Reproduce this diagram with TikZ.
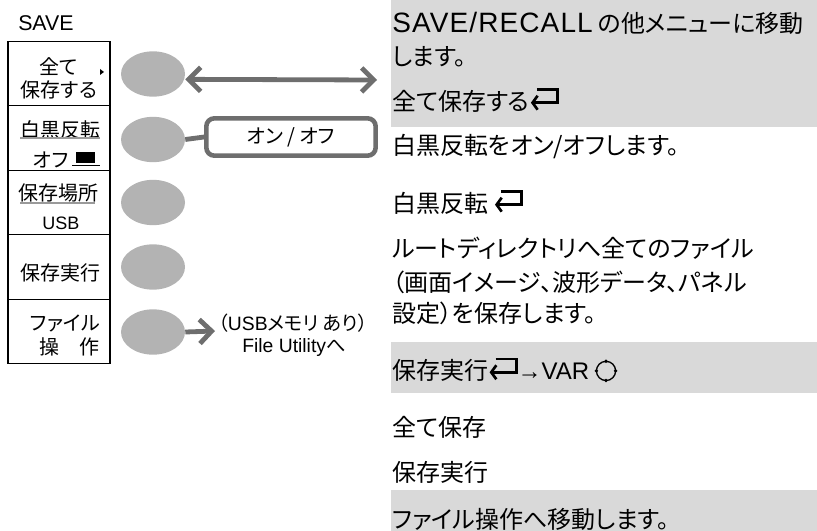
\documentclass[tikz,border=0pt]{standalone}
\usepackage{fontspec}
\setmainfont[RawFeature=+palt]{Noto Sans CJK JP}
\newfontfamily\lat{Liberation Sans}
\usetikzlibrary{arrows.meta,shapes.geometric,positioning,calc}
\definecolor{keygray}{HTML}{B3B3B3}
\definecolor{linegray}{HTML}{6E6E6E}
\definecolor{bandgray}{HTML}{D9D9D9}
\definecolor{markgray}{HTML}{9A9A9A}
\newcommand\retmark{\tikz[baseline=0pt,x=1pt,y=1pt]{\draw[line width=2pt,-{Straight Barb[length=3.8pt,width=10.5pt]}] (4,15.5) -- (19.5,15.5) -- (19.5,5.5) -- (-0.5,5.5);}}
\newcommand\varknob{\tikz[baseline=0pt,x=1pt,y=1pt]{\draw[line width=1pt] (7.5,6.5) circle (7.2);
  \foreach \a in {0,90,180,270} \fill ($(7.5,6.5)+(\a:7.2)$) circle (1.4);}}
\tikzset{
  menucell/.style={draw=black,line width=0.8pt,outer sep=0pt,inner sep=0pt,
    minimum width=76.5pt,minimum height=48.4pt},
  celltext/.style={inner sep=0pt,font=\fontsize{15}{17}\selectfont},
  softkey/.style={ellipse,fill=keygray,inner sep=0pt,minimum width=48pt,minimum height=34pt},
  keyline/.style={draw=linegray,line width=3.6pt},
  keyarrow/.style={keyline,-{Straight Barb[length=9pt,width=18pt]}},
  bothways/.style={keyline,{Straight Barb[length=9pt,width=18pt]}-{Straight Barb[length=9pt,width=18pt]}},
  onoff/.style={draw=linegray,line width=3.4pt,rounded corners=6pt,fill=white,
    minimum width=127pt,minimum height=28pt,font=\fontsize{15}{17}\selectfont},
  desc/.style={anchor=west,inner sep=0pt,font=\fontsize{18}{22}\selectfont}
}

\begin{document}
\begin{tikzpicture}[x=0.75pt,y=-0.75pt]
  \useasboundingbox (0,0) rectangle (817,531);
  % shaded description bands
  \fill[bandgray] (391,0) rectangle (817,127);
  \fill[bandgray] (391,342) rectangle (817,393);
  \fill[bandgray] (391,490) rectangle (817,531);

  \node[anchor=west,inner sep=0pt,font=\lat\fontsize{16}{18}\selectfont] (title) at (18,23) {SAVE};

  % menu column
  \node[menucell] (c1) at (59,73.5) {};
  \node[menucell,below=0pt of c1] (c2) {};
  \node[menucell,below=0pt of c2] (c3) {};
  \node[menucell,below=0pt of c3] (c4) {};
  \node[menucell,below=0pt of c4] (c5) {};

  \node[celltext] (allA) at (59,67) {全て};
  \node[celltext] (allB) at (59,90) {保存する};
  \fill (100,69) -- (104,72) -- (100,75) -- cycle;
  \node[celltext] (invA) at (60,130) {白黒反転};
  \draw[markgray,line width=1.5pt] (20,138) -- (100,138);
  \node[celltext,anchor=west] (invB) at (33,160) {オフ};
  \fill (76,152) rectangle (95,163);
  \draw[line width=1.3pt] (72,165.5) -- (100,165.5);
  \node[celltext] (locA) at (58,193) {保存場所};
  \draw[markgray,line width=1.5pt] (20,203) -- (95,203);
  \node[celltext,font=\lat\fontsize{13.5}{15}\selectfont] (locB) at (61,223) {USB};
  \node[celltext] (run) at (60,273) {保存実行};
  \node[celltext,anchor=east] (fileA) at (100,323) {ファイル};
  \node[celltext,anchor=east] (fileB) at (100,347) {操　作};

  % soft keys
  \node[softkey] (k1) at (153,74) {};
  \node[softkey] (k2) at (153,139.5) {};
  \node[softkey] (k3) at (153,202.5) {};
  \node[softkey] (k4) at (153,267) {};
  \node[softkey] (k5) at (153,332) {};

  \coordinate (a1) at (377,80);
  \draw[bothways] ([yshift=-4pt]k1.east) -- (a1);
  \node[onoff] (sw) at (291,137) {オン / オフ};
  \draw[keyline] (k2.east) -- (sw.west);
  \coordinate (a5) at (215,331);
  \draw[keyarrow] (k5.east) -- (a5);
  \node[inner sep=0pt,font=\fontsize{14.5}{16}\selectfont] (usbA) at (293,323) {（{\lat USB}メモリ あり）};
  \node[inner sep=0pt,font=\fontsize{14.5}{16}\selectfont] (usbB) at (294,347) {{\lat File Utility}へ};

  % descriptions
  \node[desc] (d1) at (392,23) {{\lat\fontsize{21}{24}\selectfont\addfontfeature{LetterSpace=4}SAVE/RECALL} の他メニューに移動};
  \node[desc] (d2) at (392,57) {します。};
  \node[desc] (d3) at (392,100) {全て保存する\retmark};
  \node[desc] (d4) at (392,147) {白黒反転をオン/オフします。};
  \node[desc] (d5) at (392,202) {白黒反転 \retmark};
  \node[desc] (d6) at (392,248) {ルートディレクトリへ全てのファイル};
  \node[desc] (d7) at (392,282) {（画面イメージ、波形データ、パネル};
  \node[desc] (d8) at (392,313) {設定）を保存します。};
  \node[desc] (d9) at (392,370) {保存実行\retmark{\lat →VAR} \varknob};
  \node[desc] (d10) at (392,427) {全て保存};
  \node[desc] (d11) at (392,472) {保存実行};
  \node[desc] (d12) at (392,519) {ファイル操作へ移動します。};
\end{tikzpicture}
\end{document}
